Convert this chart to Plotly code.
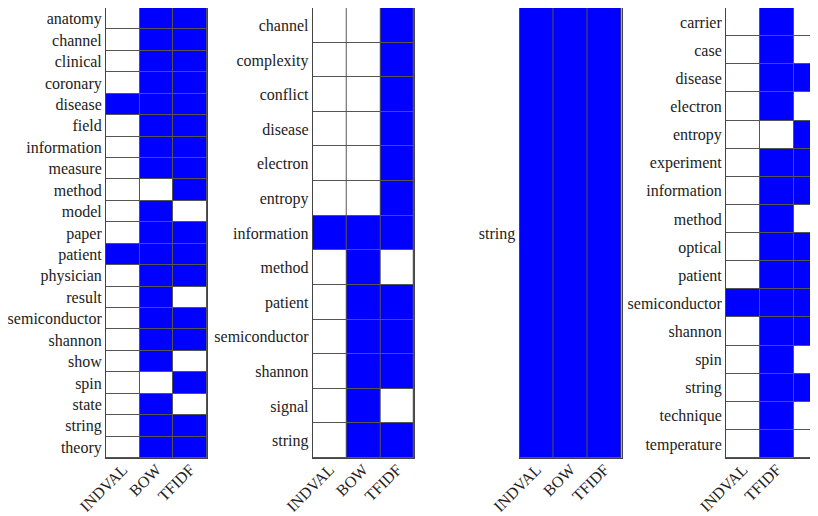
import plotly.graph_objects as go

# ---- data ----
p1_words = ["anatomy", "channel", "clinical", "coronary", "disease", "field", "information",
            "measure", "method", "model", "paper", "patient", "physician", "result",
            "semiconductor", "shannon", "show", "spin", "state", "string", "theory"]
p1_cols = ["INDVAL", "BOW", "TFIDF"]
p1_vals = [[0, 1, 1], [0, 1, 1], [0, 1, 1], [0, 1, 1], [1, 1, 1], [0, 1, 1], [0, 1, 1],
           [0, 1, 1], [0, 0, 1], [0, 1, 0], [0, 1, 1], [1, 1, 1], [0, 1, 1], [0, 1, 0],
           [0, 1, 1], [0, 1, 1], [0, 1, 0], [0, 0, 1], [0, 1, 0], [0, 1, 1], [0, 1, 1]]

p2_words = ["channel", "complexity", "conflict", "disease", "electron", "entropy", "information",
            "method", "patient", "semiconductor", "shannon", "signal", "string"]
p2_cols = ["INDVAL", "BOW", "TFIDF"]
p2_vals = [[0, 0, 1], [0, 0, 1], [0, 0, 1], [0, 0, 1], [0, 0, 1], [0, 0, 1], [1, 1, 1],
           [0, 1, 0], [0, 1, 1], [0, 1, 1], [0, 1, 1], [0, 1, 0], [0, 1, 1]]

p3_words = ["string"]
p3_cols = ["INDVAL", "BOW", "TFIDF"]
p3_vals = [[1, 1, 1]]

p4_words = ["carrier", "case", "disease", "electron", "entropy", "experiment", "information",
            "method", "optical", "patient", "semiconductor", "shannon", "spin", "string",
            "technique", "temperature"]
p4_cols = ["INDVAL", "TFIDF", "BOW"]
p4_vals = [[0, 1, 0], [0, 1, 0], [0, 1, 1], [0, 1, 0], [0, 0, 1], [0, 1, 1], [0, 1, 1],
           [0, 1, 0], [0, 1, 1], [0, 1, 1], [1, 1, 1], [0, 1, 1], [0, 1, 0], [0, 1, 1],
           [0, 1, 0], [0, 1, 0]]

panels = [(p1_words, p1_cols, p1_vals), (p2_words, p2_cols, p2_vals),
          (p3_words, p3_cols, p3_vals), (p4_words, p4_cols, p4_vals)]

# page offset (browser body margin) compensated
OFF = 8
W, H = 810, 508
x_px = [(106, 207), (312.7, 414), (519.5, 621.5), (726, 818)]
y_top, y_bot = 8, 458
col_w = 33.8

fig = go.Figure()
font = dict(family="Liberation Serif", size=16, color="#222")
border = "#444"

for i, (words, cols, vals) in enumerate(panels):
    n = len(words)
    xa = "x" if i == 0 else f"x{i+1}"
    ya = "y" if i == 0 else f"y{i+1}"
    fig.add_trace(go.Heatmap(
        z=vals, x=list(range(len(cols))), y=list(range(n)),
        colorscale=[[0, "#ffffff"], [1, "#0000ff"]], zmin=0, zmax=1,
        showscale=False, xgap=1, ygap=1, xaxis=xa, yaxis=ya, hoverinfo="skip"))
    x0, x1 = x_px[i]
    clipped = (i == 3)
    if clipped:
        xr = [-0.5, -0.5 + (x1 - x0) / col_w]
    else:
        xr = [-0.5, len(cols) - 0.5]
    xkey = "xaxis" if i == 0 else f"xaxis{i+1}"
    ykey = "yaxis" if i == 0 else f"yaxis{i+1}"
    fx0, fx1 = (x0 - OFF) / W, min(1.0, (x1 - OFF) / W)
    fy0, fy1 = 1 - (y_bot - OFF) / H, 1 - (y_top - OFF) / H
    fig.update_layout(**{
        xkey: dict(domain=[fx0, fx1], range=xr, anchor=ya, automargin=False,
                   tickvals=list(range(len(cols))), ticktext=cols, tickangle=-45,
                   tickfont=font, showgrid=False, zeroline=False, showline=True,
                   linecolor=border, linewidth=1, mirror=True, ticks="",
                   ticklabelstandoff=-5),
        ykey: dict(domain=[fy0, fy1], range=[n - 0.5, -0.5], anchor=xa,
                   automargin=False,
                   tickvals=list(range(n)), ticktext=words, tickfont=font,
                   showgrid=False, zeroline=False, showline=True, linecolor=border,
                   linewidth=1, mirror=(not clipped), ticks=""),
    })

fig.update_layout(width=W, height=H, margin=dict(l=0, r=0, t=0, b=0),
                  plot_bgcolor="#555555", paper_bgcolor="white", showlegend=False)

fig.write_html("out.html")
